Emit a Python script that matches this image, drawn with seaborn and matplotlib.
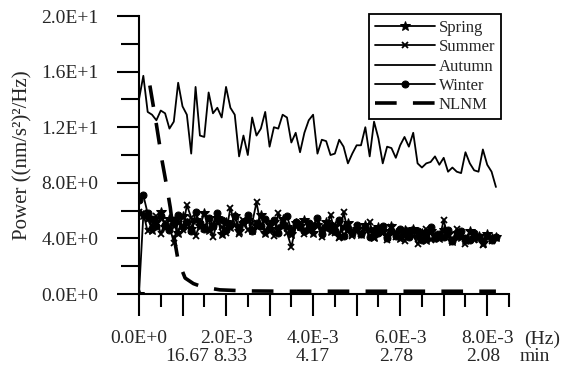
import numpy as np
import pandas as pd
import matplotlib
matplotlib.use("Agg")
import matplotlib.pyplot as plt
import seaborn as sns
from matplotlib.ticker import MultipleLocator

# frequency axis, one point every 1e-4 Hz
FREQ = [i * 1e-4 for i in range(83)]

SPRING = [0.0, 5.7, 5.5, 4.6, 5.2, 5.9, 4.8, 5.4, 5.0, 4.4,
          5.6, 5.1, 4.7, 5.3, 4.9, 5.8, 4.6, 5.0, 5.5, 4.3,
          5.2, 4.8, 5.6, 4.5, 5.1, 5.3, 4.6, 4.9, 5.7, 4.4,
          5.0, 5.2, 4.7, 5.4, 4.8, 4.3, 5.1, 4.9, 5.3, 4.6,
          4.4, 5.0, 4.7, 5.2, 4.5, 4.9, 4.2, 4.8, 5.1, 4.4,
          4.7, 4.3, 5.0, 4.6, 4.1, 4.8, 4.5, 4.2, 4.9, 4.4,
          4.0, 4.6, 4.3, 4.7, 4.1, 4.4, 3.9, 4.5, 4.2, 4.0,
          4.6, 4.3, 3.8, 4.4, 4.1, 3.9, 4.5, 4.0, 4.2, 3.7,
          4.3, 4.0, 4.1]

SUMMER = [5.9, 5.8, 4.5, 5.0, 5.6, 4.3, 5.2, 4.9, 3.7, 5.3,
          4.6, 6.4, 5.5, 4.2, 5.0, 4.7, 5.4, 4.1, 5.2, 4.8,
          4.4, 6.2, 5.0, 4.3, 5.3, 4.6, 5.1, 6.6, 4.9, 4.5,
          5.2, 4.2, 5.8, 5.0, 4.4, 3.4, 4.8, 5.1, 4.3, 4.9,
          4.6, 5.0, 4.1, 4.7, 5.7, 4.4, 4.0, 5.9, 4.5, 4.2,
          4.8, 4.3, 4.6, 5.2, 4.0, 4.7, 4.4, 3.9, 4.8, 4.1,
          4.5, 3.8, 4.6, 4.2, 3.6, 4.4, 4.7, 3.9, 4.3, 4.0,
          5.3, 4.1, 3.8, 4.7, 4.2, 3.6, 4.4, 3.9, 4.1, 3.5,
          4.2, 3.8, 4.0]

AUTUMN = [14.0, 15.7, 13.1, 12.9, 12.5, 13.2, 13.0, 11.9, 12.4, 15.2,
          13.5, 12.9, 10.1, 14.9, 11.4, 11.3, 14.5, 13.0, 13.4, 12.7,
          14.9, 13.4, 12.9, 9.9, 11.4, 10.0, 12.7, 11.4, 11.9, 13.1,
          10.6, 12.0, 11.9, 12.9, 12.7, 10.9, 11.6, 10.2, 11.6, 12.5,
          12.9, 10.1, 11.1, 11.0, 10.0, 10.1, 11.1, 10.6, 9.4, 10.1,
          10.7, 10.7, 12.0, 9.9, 12.4, 11.2, 9.4, 10.6, 10.5, 9.8,
          10.7, 11.3, 10.6, 11.6, 9.4, 9.1, 9.4, 9.5, 9.9, 9.3,
          9.8, 8.8, 9.1, 8.8, 8.7, 10.2, 9.4, 8.9, 8.8, 10.4,
          9.3, 8.8, 7.7]

WINTER = [6.8, 7.1, 5.8, 5.4, 4.9, 5.6, 5.0, 4.6, 5.3, 5.7,
          4.8, 5.2, 4.5, 5.9, 5.1, 4.7, 5.5, 4.9, 5.8, 5.3,
          4.6, 5.0, 5.6, 4.8, 5.2, 5.7, 4.5, 5.1, 4.9, 5.4,
          4.7, 5.3, 4.4, 5.0, 5.6, 4.6, 5.2, 4.8, 4.5, 5.1,
          4.9, 5.5, 4.3, 4.8, 5.0, 4.5, 5.3, 4.2, 4.7, 4.4,
          5.0, 4.3, 4.8, 4.1, 4.6, 4.4, 4.9, 4.0, 4.5, 4.2,
          4.7, 4.3, 4.1, 4.6, 4.5, 3.9, 4.4, 4.8, 4.0, 4.3,
          4.1, 4.6, 3.8, 4.2, 4.5, 4.0, 3.9, 4.4, 4.1, 3.8,
          4.2, 3.9, 4.1]

NLNM_FREQ = [0.25e-3, 0.4e-3, 0.53e-3, 0.64e-3, 0.72e-3, 0.8e-3, 0.9e-3, 1.06e-3,
             1.25e-3, 1.47e-3, 1.86e-3, 2.5e-3, 3.5e-3, 4.5e-3, 5.5e-3, 6.5e-3,
             7.5e-3, 8.2e-3]
NLNM = [15.0, 12.2, 9.6, 7.7, 6.2, 4.2, 2.4, 1.15, 0.75, 0.5, 0.3, 0.22,
        0.2, 0.2, 0.2, 0.2, 0.2, 0.2]

X_LABELS = ["0.0E+0", "2.0E-3", "4.0E-3", "6.0E-3", "8.0E-3"]
MIN_POS = [1.1e-3, 2.1e-3, 4.0e-3, 5.9e-3, 7.9e-3]
MIN_LABELS = ["16.67", "8.33", "4.17", "2.78", "2.08"]
Y_TICKS = [0, 4, 8, 12, 16, 20]
Y_LABELS = ["0.0E+0", "4.0E+0", "8.0E+0", "1.2E+1", "1.6E+1", "2.0E+1"]


def main():
    sns.set_style("ticks")
    plt.rcParams['font.family'] = ['Liberation Serif', 'DejaVu Serif']

    fig = plt.figure(figsize=(5.75, 3.68), dpi=100)
    ax = fig.add_axes([0.2417, 0.201, 0.6435, 0.7555])

    mk = dict(markeredgecolor="black", markerfacecolor="black")
    seasons = [("Spring", SPRING, dict(marker="*", markersize=7, **mk)),
               ("Summer", SUMMER, dict(marker="x", markersize=5, markeredgewidth=1.3, **mk)),
               ("Autumn", AUTUMN, dict()),
               ("Winter", WINTER, dict(marker="o", markersize=5, **mk))]
    for name, vals, kw in seasons:
        df = pd.DataFrame({"freq": FREQ, "power": vals})
        sns.lineplot(data=df, x="freq", y="power", ax=ax, color="black",
                     linewidth=1.3, estimator=None, sort=False, label=name, **kw)

    nl = pd.DataFrame({"freq": NLNM_FREQ, "power": NLNM})
    sns.lineplot(data=nl, x="freq", y="power", ax=ax, color="black",
                 linewidth=2.6, estimator=None, sort=False, label="NLNM")
    ax.lines[-1].set_dashes((6, 4.5))

    ax.set_xlim(0, 8.5e-3)
    ax.set_ylim(0, 20)
    sns.despine(ax=ax)
    for s in ["left", "bottom"]:
        ax.spines[s].set_linewidth(1.5)
        ax.spines[s].set_color("black")

    ax.set_xticks(np.arange(0, 9) * 1e-3)
    ax.set_xticklabels([X_LABELS[i // 2] if i % 2 == 0 else "" for i in range(9)])
    ax.set_xticks(np.arange(0.5, 9, 1) * 1e-3, minor=True)
    ax.set_yticks(Y_TICKS)
    ax.set_yticklabels(Y_LABELS)
    ax.yaxis.set_minor_locator(MultipleLocator(2))

    ax.tick_params(axis="x", which="major", length=16, width=1.5, pad=10,
                   labelsize=14, color="black", direction="out")
    ax.tick_params(axis="x", which="minor", length=9, width=1.5, color="black",
                   direction="out")
    ax.tick_params(axis="y", which="major", length=16, width=1.5, pad=13,
                   labelsize=14, color="black", direction="out")
    ax.tick_params(axis="y", which="minor", length=13, width=1.5, color="black",
                   direction="out")

    tr = ax.get_xaxis_transform()
    for pos, lab in zip(MIN_POS, MIN_LABELS):
        ax.text(pos, -0.223, lab, transform=tr, ha="center", va="center",
                fontsize=14, clip_on=False)
    ax.text(9.1e-3, -0.223, "min", transform=tr, ha="center", va="center",
            fontsize=14, clip_on=False)
    ax.text(9.25e-3, -0.162, "(Hz)", transform=tr, ha="center", va="center",
            fontsize=14, clip_on=False)

    ax.set_xlabel("")
    ax.set_ylabel("Power ((nm/s²)²/Hz)", fontsize=15)
    ax.yaxis.set_label_coords(-0.289, 0.5)

    leg = ax.legend(loc="upper right", bbox_to_anchor=(0.978, 1.007),
                    fontsize=12, frameon=True, fancybox=False,
                    handlelength=3.6, handletextpad=0.2, labelspacing=0.2,
                    borderpad=0.35, borderaxespad=0)
    leg.get_frame().set_edgecolor("black")
    leg.get_frame().set_linewidth(1.3)
    leg.get_frame().set_alpha(1)

    fig.savefig("out.png", dpi=100)


if __name__ == '__main__':
    main()
